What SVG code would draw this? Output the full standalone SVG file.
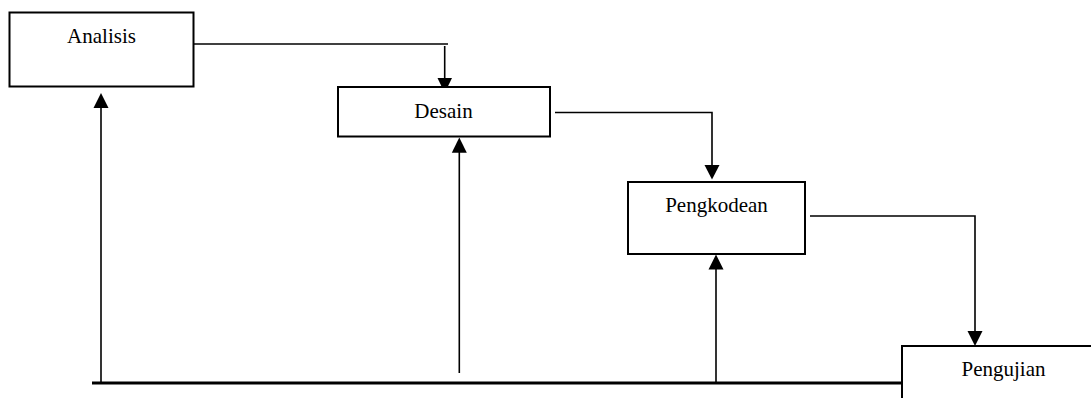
<svg xmlns="http://www.w3.org/2000/svg" width="1091" height="398" viewBox="0 0 1091 398">
<style>
.box{fill:#fff;stroke:#000;stroke-width:2}
.lbl{font-family:"Liberation Serif","Times New Roman",serif;font-size:21px;fill:#000;text-anchor:middle}
.ln{fill:none;stroke:#000;stroke-width:1.6}
.thick{fill:none;stroke:#000;stroke-width:3}
.ah{fill:#000;stroke:none}
</style>
<rect width="1091" height="398" fill="#fff"/>
<g id="connectors">
<polyline class="ln" points="193,44 448,44"/>
<line class="ln" x1="444.7" y1="46" x2="444.7" y2="80"/>
<polygon class="ah" points="437.5,78 452,78 444.7,93"/>
<polyline class="ln" points="555,112.5 712,112.5 712,166"/>
<polygon class="ah" points="704.5,165 719.5,165 712,179.5"/>
<polyline class="ln" points="810,216 975,216 975,332"/>
<polygon class="ah" points="967.5,331 982.5,331 975,346"/>
<line class="thick" x1="92" y1="383" x2="902" y2="383"/>
<line class="ln" x1="101" y1="383" x2="101" y2="107"/>
<polygon class="ah" points="93.5,108 108.5,108 101,93"/>
<line class="ln" x1="459.3" y1="373" x2="459.3" y2="152"/>
<polygon class="ah" points="451.8,152.7 466.8,152.7 459.3,137.5"/>
<line class="ln" x1="716" y1="383" x2="716" y2="268"/>
<polygon class="ah" points="708.5,269.5 723.5,269.5 716,254.5"/>
</g>
<g id="analisis">
<rect class="box" x="9.5" y="12.5" width="184" height="74"/>
<text class="lbl" x="101.5" y="43.3">Analisis</text>
</g>
<g id="desain">
<rect class="box" x="338" y="87" width="212" height="49.5"/>
<text class="lbl" x="443.5" y="118.3">Desain</text>
</g>
<g id="pengkodean">
<rect class="box" x="628" y="182" width="177" height="72"/>
<text class="lbl" x="716.5" y="211.7">Pengkodean</text>
</g>
<g id="pengujian">
<rect x="902" y="346" width="189" height="52" fill="#fff"/>
<path d="M902,399 V346 H1092" fill="none" stroke="#000" stroke-width="2"/>
<text class="lbl" x="1003.5" y="376">Pengujian</text>
</g>
</svg>
